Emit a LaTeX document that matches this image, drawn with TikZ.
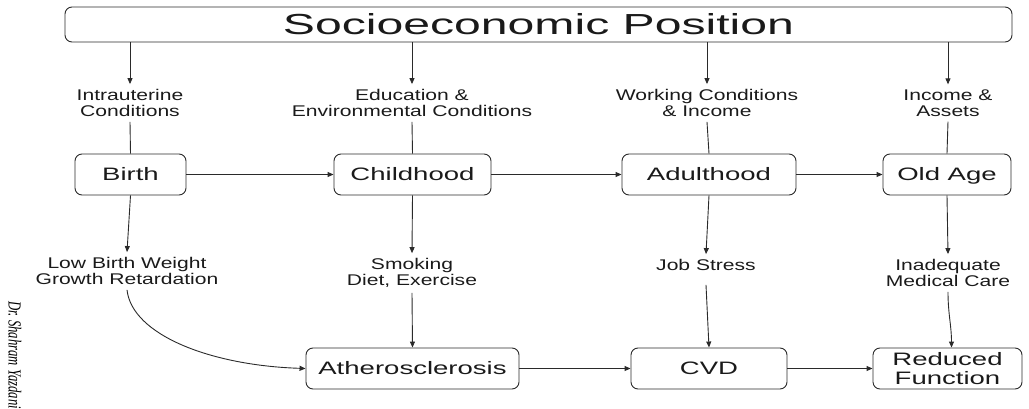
\documentclass[tikz,border=0pt]{standalone}
\usepackage{fontspec}
\usepackage{graphicx}
\setmainfont{Liberation Sans}
\newfontfamily\topfont[FakeStretch=1.66]{Liberation Sans}
\newfontfamily\boxfont[FakeStretch=1.53]{Liberation Sans}
\newfontfamily\lblfont[FakeStretch=1.36]{Liberation Sans}
\newfontfamily\wmfont{Liberation Serif}
\usetikzlibrary{arrows.meta}
\definecolor{ln}{HTML}{2A2A2A}
\definecolor{txt}{HTML}{1A1A1A}
\begin{document}
\begin{tikzpicture}[x=1pt,y=-1pt,
  every node/.style={inner sep=0pt, text=txt},
  stage/.style={draw=ln, line width=0.9pt, rounded corners=7pt,
    font=\boxfont\fontsize{18}{19.5}\selectfont, align=center, inner sep=0pt,
    minimum height=41pt},
  capc/.style={text height=12.9pt, text depth=0pt},
  lbl/.style={font=\lblfont\fontsize{15.5}{16}\selectfont, align=center, inner sep=5pt},
  conn/.style={draw=ln, line width=0.9pt, -{Triangle[length=6pt,width=5pt]}},
  plain/.style={draw=ln, line width=0.9pt}]
\path[use as bounding box] (0,0) rectangle (1029,409);
\clip (0,0) rectangle (1029,409);

% top
\node[stage, font=\topfont\fontsize{29}{30}\selectfont, minimum width=947pt,
  minimum height=35pt, text height=20.8pt, text depth=0pt] (top) at (538.5,24.5) {Socioeconomic Position};

% upper labels
\node[lbl] (l1) at (130,103) {Intrauterine\\Conditions};
\node[lbl] (l2) at (412,103) {Education \&\\Environmental Conditions};
\node[lbl] (l3) at (707,103) {Working Conditions\\\& Income};
\node[lbl] (l4) at (948,103) {Income \&\\Assets};

% stages
\node[stage, capc, minimum width=111pt] (birth) at (130.5,174.5) {Birth};
\node[stage, capc, minimum width=157pt] (child) at (412.5,174.5) {Childhood};
\node[stage, capc, minimum width=174pt] (adult) at (709,174.5) {Adulthood};
\node[stage, capc, minimum width=128pt] (old) at (947,174.5) {Old Age};

% lower labels
\node[lbl] (m1) at (127,271) {Low Birth Weight\\Growth Retardation};
\node[lbl] (m2) at (412,273) {Smoking\\Diet, Exercise};
\node[lbl] (m3) at (706,265) {Job Stress};
\node[lbl] (m4) at (948,273) {Inadequate\\Medical Care};

% outcomes
\node[stage, capc, minimum width=213pt] (ath) at (412.5,368.5) {Atherosclerosis};
\node[stage, capc, minimum width=156pt] (cvd) at (709,368.5) {CVD};
\node[stage, minimum width=149pt] (red) at (947.5,368.5) {Reduced\\Function};

% watermark
\node[font=\wmfont\itshape\fontsize{12.7}{13}\selectfont, rotate=-90, anchor=west,
  inner sep=0pt, text=black] (wm) at (15,301) {\scalebox{1}[1.45]{Dr.\ Shahram Yazdani}};

% connectors from top
\draw[conn] (top.south -| l1) -- (l1.north);
\draw[conn] (top.south -| l2) -- (l2.north);
\draw[conn] (top.south -| l3) -- (l3.north);
\draw[conn] (top.south -| l4) -- (l4.north);
\draw[plain] (l1.south) -- (birth.north);
\draw[plain] (l2.south) -- (child.north);
\draw[plain] (l3.south) -- (adult.north);
\draw[plain] (l4.south) -- (old.north);

% life course
\draw[conn] (birth) -- (child);
\draw[conn] (child) -- (adult);
\draw[conn] (adult) -- (old);

% stage to risk
\draw[conn] (birth.south) -- (m1.north);
\draw[conn] (child.south) -- (m2.north);
\draw[conn] (adult.south) -- (m3.north);
\draw[conn] (old.south) -- (m4.north);

% risk to outcomes
\draw[conn] (m1.south) .. controls +(5,45) and +(-95,-3) .. (ath.west);
\draw[conn] (m2.south) -- (ath.north);
\draw[conn] ([yshift=-9pt]m3.south) -- (cvd.north);
\draw[conn] (m4.south) .. controls +(0,22) and +(0,-22) .. ([xshift=4pt]red.north);

\draw[conn] (ath) -- (cvd);
\draw[conn] (cvd) -- (red);
\end{tikzpicture}
\end{document}
